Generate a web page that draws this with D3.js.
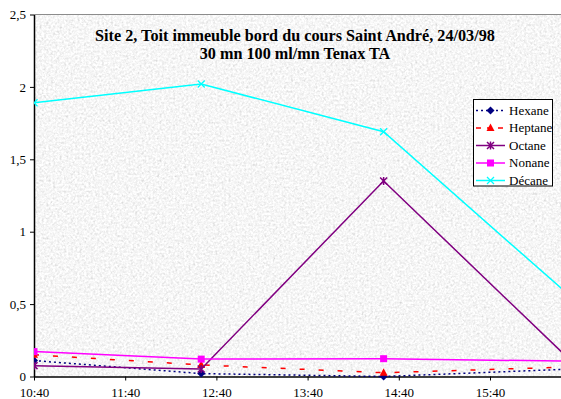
<!DOCTYPE html>
<html>
<head>
<meta charset="utf-8">
<script src="https://cdn.jsdelivr.net/npm/d3@7/dist/d3.min.js"></script>
<style>
  html, body { margin: 0; padding: 0; background: #fff; }
  svg { display: block; }
  svg text { font-family: "Liberation Serif", "Times New Roman", "DejaVu Serif", serif; }
</style>
</head>
<body>
<svg id="chart" width="561" height="399"></svg>
<script>
// Sampling times (hh:mm)
const times = ["10:40", "12:30", "14:30", "16:30"];
// Concentrations per compound
const hexane  = [0.11, 0.02, 0.0, 0.05];
const heptane = [0.15, 0.08, 0.026, 0.065];
const octane  = [0.075, 0.052, 1.35, 0.14];
const nonane  = [0.172, 0.12, 0.123, 0.106];
const decane  = [1.89, 2.02, 1.69, 0.58];
const seriesNames = ["Hexane", "Heptane", "Octane", "Nonane", "Décane"];
// Axis ticks
const xTickLabels = ["10:40", "11:40", "12:40", "13:40", "14:40", "15:40"];
const yTicks = [0, 0.5, 1, 1.5, 2, 2.5];
const titleLines = ["Site 2, Toit immeuble bord du cours Saint André, 24/03/98", "30 mn 100 ml/mn Tenax TA"];

const FONT = "Liberation Serif, Times New Roman, serif";
const toMin = s => { const [h, m] = s.split(":").map(Number); return h * 60 + m; };

const svg = d3.select("#chart");
const W = 561, H = 399;
const m = { left: 34, top: 14.5, right: 0, bottom: 22.5 };
const pw = W - m.left - m.right, ph = H - m.top - m.bottom;

const x = d3.scaleLinear().domain([toMin("10:40"), toMin("10:40") + 346.7]).range([m.left, m.left + pw]);
const y = d3.scaleLinear().domain([0, 2.5]).range([m.top + ph, m.top]);

// granite-like fill for the plot area
const defs = svg.append("defs");
const f = defs.append("filter").attr("id", "granite").attr("x", 0).attr("y", 0).attr("width", "100%").attr("height", "100%");
f.append("feTurbulence").attr("type", "fractalNoise").attr("baseFrequency", 0.45).attr("numOctaves", 3).attr("seed", 7).attr("result", "n");
f.append("feColorMatrix").attr("type", "matrix")
  .attr("values", "0.33 0.33 0.33 0 0  0.33 0.33 0.33 0 0  0.33 0.33 0.33 0 0  0 0 0 0 1").attr("result", "g");
const ct = f.append("feComponentTransfer");
["feFuncR", "feFuncG", "feFuncB"].forEach(fn => ct.append(fn).attr("type", "linear").attr("slope", 0.85).attr("intercept", 0.5));

defs.append("clipPath").attr("id", "plotClip").append("rect")
  .attr("x", m.left).attr("y", m.top - 6).attr("width", pw).attr("height", ph + 12);

svg.append("rect").attr("x", m.left).attr("y", m.top).attr("width", pw).attr("height", ph)
  .attr("fill", "#e4e4e4").attr("filter", "url(#granite)");
// top border of plot area
svg.append("line").attr("x1", m.left).attr("x2", W).attr("y1", m.top).attr("y2", m.top)
  .attr("stroke", "#8c8c8c").attr("stroke-width", 1);

// Axes
const xTickVals = xTickLabels.map(toMin);
const xAxis = d3.axisBottom(x).tickValues(xTickVals).tickFormat((d, i) => xTickLabels[i]).tickSize(4).tickSizeOuter(0);
const gx = svg.append("g").attr("transform", `translate(0,${m.top + ph})`).call(xAxis);
gx.attr("font-family", FONT);
gx.select(".domain").attr("stroke", "#000").attr("stroke-width", 1.5);
gx.selectAll(".tick line").attr("stroke", "#000");
gx.selectAll(".tick text").attr("font-size", 13).attr("fill", "#000").attr("dy", "0").attr("y", 20);

const fmt = v => String(v).replace(".", ",");
const yAxis = d3.axisLeft(y).tickValues(yTicks).tickFormat(fmt).tickSize(4).tickSizeOuter(0);
const gy = svg.append("g").attr("transform", `translate(${m.left},0)`).call(yAxis);
gy.attr("font-family", FONT);
gy.select(".domain").attr("stroke", "#000").attr("stroke-width", 1.5);
gy.selectAll(".tick line").attr("stroke", "#000");
gy.selectAll(".tick text").attr("font-size", 13).attr("fill", "#000").attr("x", -8).attr("dy", "0.32em");

// Title
const title = svg.append("text").attr("text-anchor", "middle").attr("font-weight", "bold")
  .attr("font-size", 16.2).attr("fill", "#000").attr("font-family", FONT);
title.append("tspan").attr("x", 295).attr("y", 41).text(titleLines[0]);
title.append("tspan").attr("x", 295).attr("y", 59).text(titleLines[1]);

// Series styles
const styles = {
  "Hexane":  { color: "#000080", dash: "2,3", width: 1.5, marker: "diamond" },
  "Heptane": { color: "#ff0000", dash: "5,14", width: 1.5, marker: "triangle" },
  "Octane":  { color: "#800080", dash: null, width: 1.5, marker: "star" },
  "Nonane":  { color: "#ff00ff", dash: null, width: 1.5, marker: "square" },
  "Décane":  { color: "#00ffff", dash: null, width: 1.5, marker: "cross" }
};
const values = [hexane, heptane, octane, nonane, decane];

function drawMarker(g, type, cx, cy, color) {
  if (type === "diamond") {
    g.append("path").attr("d", `M${cx},${cy - 4}L${cx + 4},${cy}L${cx},${cy + 4}L${cx - 4},${cy}Z`).attr("fill", color);
  } else if (type === "triangle") {
    g.append("path").attr("d", `M${cx},${cy - 4.5}L${cx + 4},${cy + 3}L${cx - 4},${cy + 3}Z`).attr("fill", color);
  } else if (type === "square") {
    g.append("rect").attr("x", cx - 3.5).attr("y", cy - 3.5).attr("width", 7).attr("height", 7).attr("fill", color);
  } else if (type === "cross") {
    g.append("path").attr("d", `M${cx - 3.5},${cy - 3.5}L${cx + 3.5},${cy + 3.5}M${cx + 3.5},${cy - 3.5}L${cx - 3.5},${cy + 3.5}`)
      .attr("stroke", color).attr("stroke-width", 1.3).attr("fill", "none");
  } else if (type === "star") {
    g.append("path").attr("d", `M${cx - 3.5},${cy - 3.5}L${cx + 3.5},${cy + 3.5}M${cx + 3.5},${cy - 3.5}L${cx - 3.5},${cy + 3.5}M${cx},${cy - 4}L${cx},${cy + 4}`)
      .attr("stroke", color).attr("stroke-width", 1.5).attr("fill", "none");
  }
}

const plot = svg.append("g").attr("clip-path", "url(#plotClip)");
seriesNames.forEach((name, si) => {
  const st = styles[name];
  const pts = times.map((t, i) => [x(toMin(t)), y(values[si][i])]);
  plot.append("path").attr("d", d3.line()(pts)).attr("fill", "none")
    .attr("stroke", st.color).attr("stroke-width", st.width)
    .attr("stroke-dasharray", st.dash);
  const mg = plot.append("g");
  pts.forEach(p => drawMarker(mg, st.marker, p[0], p[1], st.color));
});

// Legend
const lg = svg.append("g");
lg.append("rect").attr("x", 473.5).attr("y", 99.5).attr("width", 79).attr("height", 86.5)
  .attr("fill", "#fff").attr("stroke", "#000").attr("stroke-width", 1);
seriesNames.forEach((name, i) => {
  const st = styles[name];
  const cy = 110.5 + i * 17.5;
  lg.append("line").attr("x1", 476).attr("x2", 505).attr("y1", cy).attr("y2", cy)
    .attr("stroke", st.color).attr("stroke-width", st.width)
    .attr("stroke-dasharray", name === "Heptane" ? "5,6" : st.dash);
  drawMarker(lg, st.marker, 490.5, cy, st.color);
  lg.append("text").attr("x", 509).attr("y", cy + 4).attr("font-size", 13)
    .attr("font-family", FONT).attr("fill", "#000").text(name);
});
</script>
</body>
</html>
